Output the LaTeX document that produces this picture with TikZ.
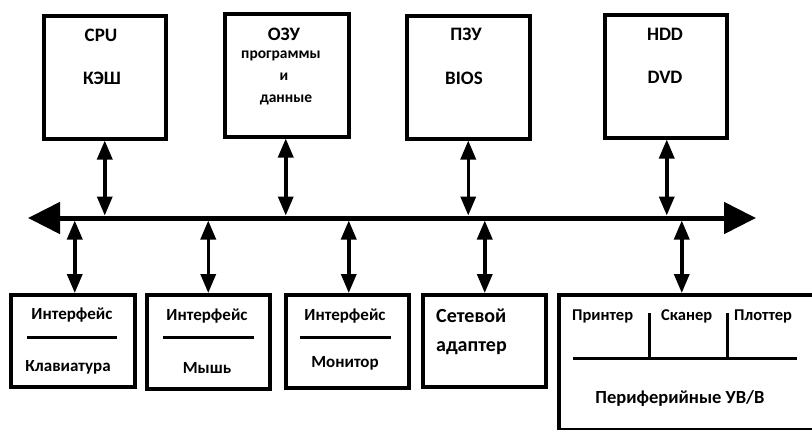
\documentclass[tikz,border=0pt]{standalone}
\usepackage{fontspec}
\setmainfont{Carlito}
\usetikzlibrary{arrows.meta}
\begin{document}
\begin{tikzpicture}[x=1pt,y=-1pt,
  box/.style={draw,line width=3.5pt,minimum width=#1,inner sep=0pt,anchor=north west},
  txt/.style={font=\bfseries\fontsize{#1}{#1}\selectfont,inner sep=0pt,anchor=base},
  link/.style={line width=3.5pt,{Triangle[length=19pt,width=15pt]}-{Triangle[length=19pt,width=15pt]}},
  sep/.style={line width=3pt}]
\useasboundingbox (0,0) rectangle (812,429);
\clip (0,0) rectangle (812,429);
% top boxes
\node[box=122pt,minimum height=123pt] (cpu) at (42,14) {};
\node[box=124pt,minimum height=123pt] (ram) at (223,12) {};
\node[box=123pt,minimum height=123pt] (rom) at (405,14) {};
\node[box=122pt,minimum height=123pt] (hdd) at (603,13) {};
\node[txt=19] (t1) at (101,41) {CPU};
\node[txt=19] (t2) at (102,84) {КЭШ};
\node[txt=19] (t3) at (284,40) {ОЗУ};
\node[txt=15.5] (t4) at (281,58) {программы};
\node[txt=15.5] (t5) at (284,80) {и};
\node[txt=15.5] (t6) at (286,102) {данные};
\node[txt=19] (t7) at (466,40) {ПЗУ};
\node[txt=19] (t8) at (464,84) {BIOS};
\node[txt=19] (t9) at (665,40) {HDD};
\node[txt=19] (t10) at (665,83) {DVD};
% bus
\coordinate (busL) at (28,218);
\coordinate (busR) at (756,218);
\draw[line width=5pt,{Triangle[length=32pt,width=31pt]}-{Triangle[length=32pt,width=31pt]}] (busL) -- (busR);
\coordinate (busT) at (0,215.5);
\coordinate (busB) at (0,220.5);
% bottom boxes
\node[box=124pt,minimum height=92pt] (kb) at (9,293) {};
\node[box=123pt,minimum height=94pt] (ms) at (145,293) {};
\node[box=123pt,minimum height=93pt] (mn) at (284,293) {};
\node[box=123pt,minimum height=92pt] (net) at (421,293) {};
\node[box=270pt,minimum height=135pt] (per) at (557,293) {};
% interface texts
\node[txt=17] (i1) at (72,319) {Интерфейс};
\draw[sep] (27,337) -- (117,337);
\node[txt=17] (k1) at (68,371) {Клавиатура};
\node[txt=17] (i2) at (207,320) {Интерфейс};
\draw[sep] (163,337) -- (254,337);
\node[txt=17] (k2) at (207,373) {Мышь};
\node[txt=17] (i3) at (345,320) {Интерфейс};
\draw[sep] (300,337) -- (391,337);
\node[txt=17] (k3) at (345,367) {Монитор};
\node[txt=20,anchor=base west] (n1) at (436,322) {Сетевой};
\node[txt=20,anchor=base west] (n2) at (436,351) {адаптер};
% peripheral
\node[txt=16.5,anchor=base west] (p1) at (572,320) {Принтер};
\node[txt=16.5,anchor=base west] (p2) at (661,320) {Сканер};
\node[txt=16.5,anchor=base west] (p3) at (734,320) {Плоттер};
\coordinate (h1) at (573,358);
\coordinate (h2) at (797,358);
\coordinate (v1) at (649,313);
\coordinate (v2) at (727,313);
\draw[sep] (h1) -- (h2);
\draw[sep] (v1) -- (v1 |- h1);
\draw[sep] (v2) -- (v2 |- h1);
\node[txt=18.5] (p4) at (680,403) {Периферийные УВ/В};
% links
\draw[link] (cpu.south) -- (cpu.south |- busT);
\draw[link] ([xshift=-1pt]ram.south) -- ([xshift=-1pt]ram.south |- busT);
\draw[link] (rom.south) -- (rom.south |- busT);
\draw[link] ([xshift=1pt]hdd.south) -- ([xshift=1pt]hdd.south |- busT);
\draw[link] ([xshift=2pt]kb.north |- busB) -- ([xshift=2pt]kb.north);
\draw[link] (ms.north |- busB) -- (ms.north);
\draw[link] ([xshift=1.5pt]mn.north |- busB) -- ([xshift=1.5pt]mn.north);
\draw[link] ([xshift=0.5pt]net.north |- busB) -- ([xshift=0.5pt]net.north);
\draw[link] ([xshift=-12pt]per.north |- busB) -- ([xshift=-12pt]per.north);
\end{tikzpicture}
\end{document}
